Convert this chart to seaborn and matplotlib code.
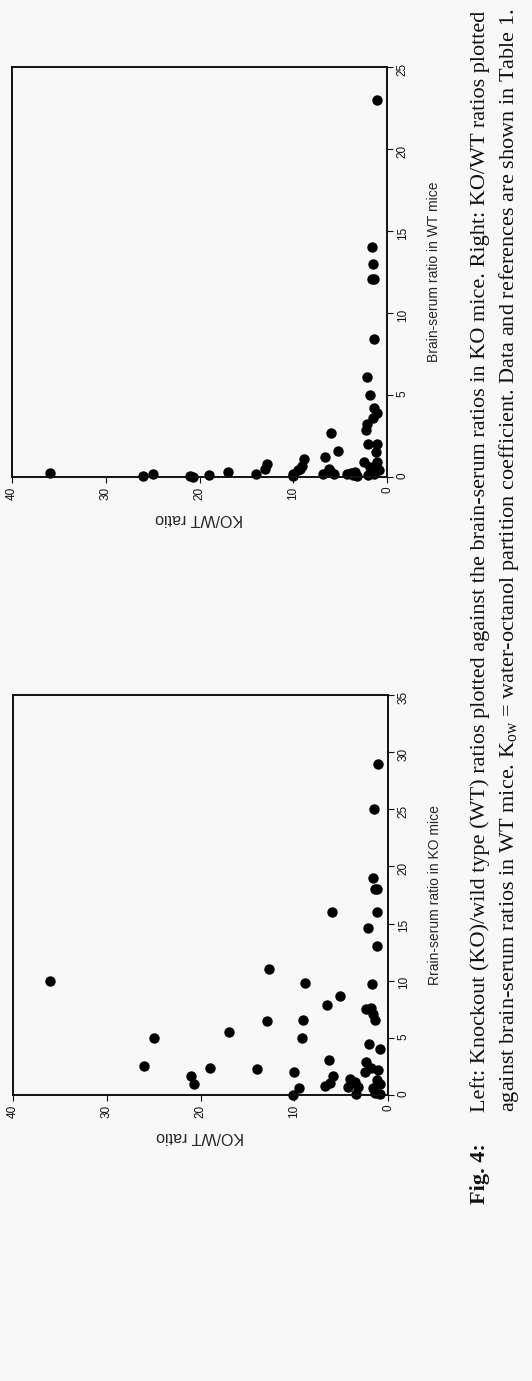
import numpy as np
import pandas as pd
import seaborn as sns
import matplotlib.pyplot as plt

# KO panel (left in the paper, bottom of the rotated page)
ko_ratio = [36.0, 26.0, 25.0, 21.0, 20.7, 19.0, 17.0, 14.0, 12.7, 12.9,
            10.1, 10.0, 9.5, 8.9, 9.1, 9.2, 6.0, 5.1, 6.5, 6.3,
            6.7, 6.2, 5.9, 4.3, 4.1, 3.5, 3.2, 3.4, 2.1, 1.6,
            1.4, 1.2, 1.2, 1.2, 1.5, 1.1, 1.7, 2.3, 1.8, 1.6,
            1.4, 2.0, 0.9, 2.3, 2.5, 1.8, 1.1, 1.2, 0.9, 1.6,
            1.4, 0.9]
ko_brain = [10.0, 2.5, 5.0, 1.7, 1.0, 2.4, 5.5, 2.3, 11.0, 6.5,
            0.0, 2.0, 0.6, 9.8, 6.6, 5.0, 16.0, 8.7, 7.9, 3.1,
            0.8, 1.05, 1.7, 0.7, 1.4, 1.1, 0.7, 0.1, 14.6, 19.0,
            18.0, 18.0, 16.0, 13.0, 25.0, 29.0, 9.7, 7.5, 7.6, 7.1,
            6.6, 4.5, 4.0, 2.9, 2.0, 2.4, 2.2, 1.3, 1.0, 0.6,
            0.2, 0.1]

# WT panel (right in the paper, top of the rotated page)
wt_ratio = [36.0, 26.0, 25.0, 21.0, 20.7, 19.0, 17.0, 14.0, 12.8, 13.0,
            10.0, 10.0, 9.5, 8.9, 9.1, 9.25, 6.0, 5.2, 6.6, 6.2,
            6.8, 6.0, 5.7, 4.3, 3.9, 3.6, 3.2, 3.4, 2.1, 1.6,
            1.4, 1.5, 1.6, 1.1, 1.4, 1.8, 1.5, 1.4, 1.1, 2.3,
            2.1, 2.0, 1.1, 1.2, 2.5, 1.1, 1.8, 0.9, 1.4, 2.0]
wt_brain = [0.24, 0.04, 0.2, 0.04, 0.0, 0.1, 0.3, 0.2, 0.8, 0.5,
            0.04, 0.2, 0.4, 1.1, 0.7, 0.5, 2.7, 1.6, 1.2, 0.5,
            0.2, 0.3, 0.2, 0.2, 0.24, 0.1, 0.04, 0.3, 6.1, 12.1,
            12.1, 13.0, 14.0, 23.0, 8.4, 5.0, 3.6, 4.2, 3.9, 2.85,
            3.25, 2.0, 2.0, 1.5, 0.9, 0.9, 0.6, 0.4, 0.2, 0.1]

ratio_ticks = [0, 10, 20, 30, 40]
ko_ticks = [0, 5, 10, 15, 20, 25, 30, 35]
wt_ticks = [0, 5, 10, 15, 20, 25]

ko_df = pd.DataFrame({"ratio": ko_ratio, "brain": ko_brain})
wt_df = pd.DataFrame({"ratio": wt_ratio, "brain": wt_brain})

sns.set_style("ticks")
plt.rcParams['font.family'] = ['Liberation Sans', 'DejaVu Sans']
plt.rcParams['mathtext.fontset'] = 'custom'
plt.rcParams['mathtext.rm'] = 'Liberation Serif'
plt.rcParams['mathtext.it'] = 'Liberation Serif:italic'

bg = '#f8f8f8'
fig = plt.figure(figsize=(5.32, 13.81), dpi=100, facecolor=bg)


def panel(rect, df, ymax, yticks, ylabel):
    ax = fig.add_axes(rect, facecolor=bg)
    sns.scatterplot(data=df, x="ratio", y="brain", ax=ax, color='black',
                    s=56, linewidth=0, legend=False, clip_on=False)
    ax.set_xlim(40, 0)
    ax.set_ylim(0, ymax)
    ax.set_xticks(ratio_ticks)
    ax.set_yticks(yticks)
    ax.yaxis.tick_right()
    ax.yaxis.set_label_position('right')
    ax.tick_params(axis='both', labelsize=8.5, length=4, width=0.8,
                   direction='out', labelrotation=90, pad=3, colors='#111111')
    for sp in ax.spines.values():
        sp.set_linewidth(1.4)
        sp.set_color('#111111')
    ax.set_xlabel("KO/WT ratio", fontsize=11.5, rotation=180, labelpad=8)
    ax.set_ylabel(ylabel, fontsize=10, rotation=90, labelpad=13)
    return ax


panel([0.0244, 0.2071, 0.705, 0.2896], ko_df, 35, ko_ticks,
      "Rrain-serum ratio in KO mice")
panel([0.0226, 0.6546, 0.705, 0.2969], wt_df, 25, wt_ticks,
      "Brain-serum ratio in WT mice")

# caption, rotated with the page
cap = dict(rotation=90, ha='left', va='center', family='Liberation Serif',
           fontsize=16, rotation_mode='anchor', color='#111111')
fig.text(0.903, 0.128, "Fig. 4:", fontweight='bold', **cap)
fig.text(0.903, 0.195,
         "Left: Knockout (KO)/wild type (WT) ratios plotted against the "
         "brain-serum ratios in KO mice. Right: KO/WT ratios plotted", **cap)
fig.text(0.956, 0.195,
         "against brain-serum ratios in WT mice. K$_{\\rm ow}$ = water-octanol "
         "partition coefficient. Data and references are shown in Table 1.",
         **cap)

fig.savefig("out.png", dpi=100, facecolor=bg)
